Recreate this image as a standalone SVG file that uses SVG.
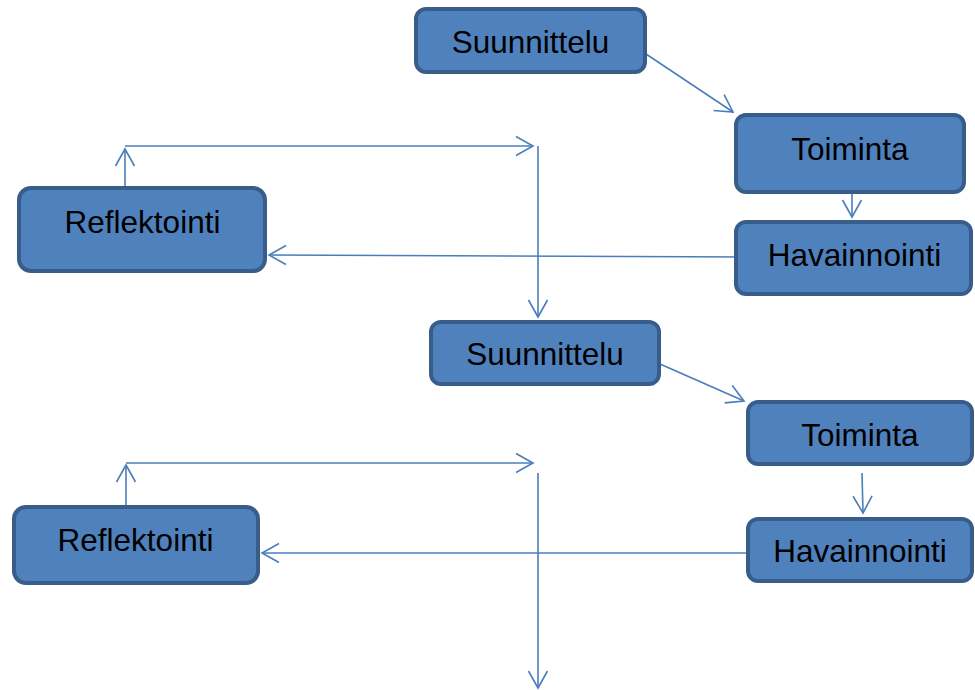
<svg xmlns="http://www.w3.org/2000/svg" width="975" height="690" viewBox="0 0 975 690">
<style>
.box{fill:#4f81bd;stroke:#385d8a;stroke-width:4}
.lbl{font-family:"Liberation Sans",Arial,sans-serif;font-size:31.5px;fill:#000;text-anchor:middle}
.c{fill:none;stroke:#4a7ebb;stroke-width:1.6}
</style>
<defs>
<marker id="a" markerUnits="userSpaceOnUse" markerWidth="24" markerHeight="24" viewBox="-19 -12 21 24" refX="0" refY="0" orient="auto">
<path d="M-17,-9.5 L0,0 L-17,9.5" fill="none" stroke="#4a7ebb" stroke-width="1.6"/>
</marker>
</defs>
<rect width="975" height="690" fill="#fff"/>
<g id="connectors">
<line class="c" x1="646" y1="54" x2="733" y2="112" marker-end="url(#a)"/>
<line class="c" x1="852" y1="193" x2="852" y2="217" marker-end="url(#a)"/>
<line class="c" x1="748" y1="257" x2="269" y2="255" marker-end="url(#a)"/>
<line class="c" x1="125" y1="188" x2="125" y2="149" marker-end="url(#a)"/>
<line class="c" x1="125" y1="146" x2="533" y2="146" marker-end="url(#a)"/>
<line class="c" x1="538" y1="146" x2="538" y2="317" marker-end="url(#a)"/>
<line class="c" x1="660" y1="364" x2="744" y2="401" marker-end="url(#a)"/>
<line class="c" x1="862" y1="473" x2="863" y2="513" marker-end="url(#a)"/>
<line class="c" x1="748" y1="553" x2="262" y2="553" marker-end="url(#a)"/>
<line class="c" x1="126" y1="507" x2="126" y2="465" marker-end="url(#a)"/>
<line class="c" x1="126" y1="463" x2="533" y2="463" marker-end="url(#a)"/>
<line class="c" x1="538" y1="473" x2="538" y2="688" marker-end="url(#a)"/>
</g>
<g id="suunnittelu1"><rect class="box" x="416" y="9" width="229" height="63" rx="10"/><text class="lbl" x="530.5" y="53">Suunnittelu</text></g>
<g id="toiminta1"><rect class="box" x="736" y="115" width="228" height="77" rx="10"/><text class="lbl" x="850" y="160">Toiminta</text></g>
<g id="havainnointi1"><rect class="box" x="736" y="222" width="235" height="72" rx="10"/><text class="lbl" x="854.5" y="266">Havainnointi</text></g>
<g id="reflektointi1"><rect class="box" x="19" y="188" width="246" height="83" rx="12"/><text class="lbl" x="142.5" y="233">Reflektointi</text></g>
<g id="suunnittelu2"><rect class="box" x="431" y="322" width="228" height="62" rx="10"/><text class="lbl" x="545" y="365">Suunnittelu</text></g>
<g id="toiminta2"><rect class="box" x="748" y="402" width="224" height="62" rx="10"/><text class="lbl" x="860" y="446">Toiminta</text></g>
<g id="havainnointi2"><rect class="box" x="748" y="519" width="224" height="62" rx="10"/><text class="lbl" x="860" y="562">Havainnointi</text></g>
<g id="reflektointi2"><rect class="box" x="14" y="507" width="244" height="76" rx="12"/><text class="lbl" x="135.5" y="551">Reflektointi</text></g>
</svg>
